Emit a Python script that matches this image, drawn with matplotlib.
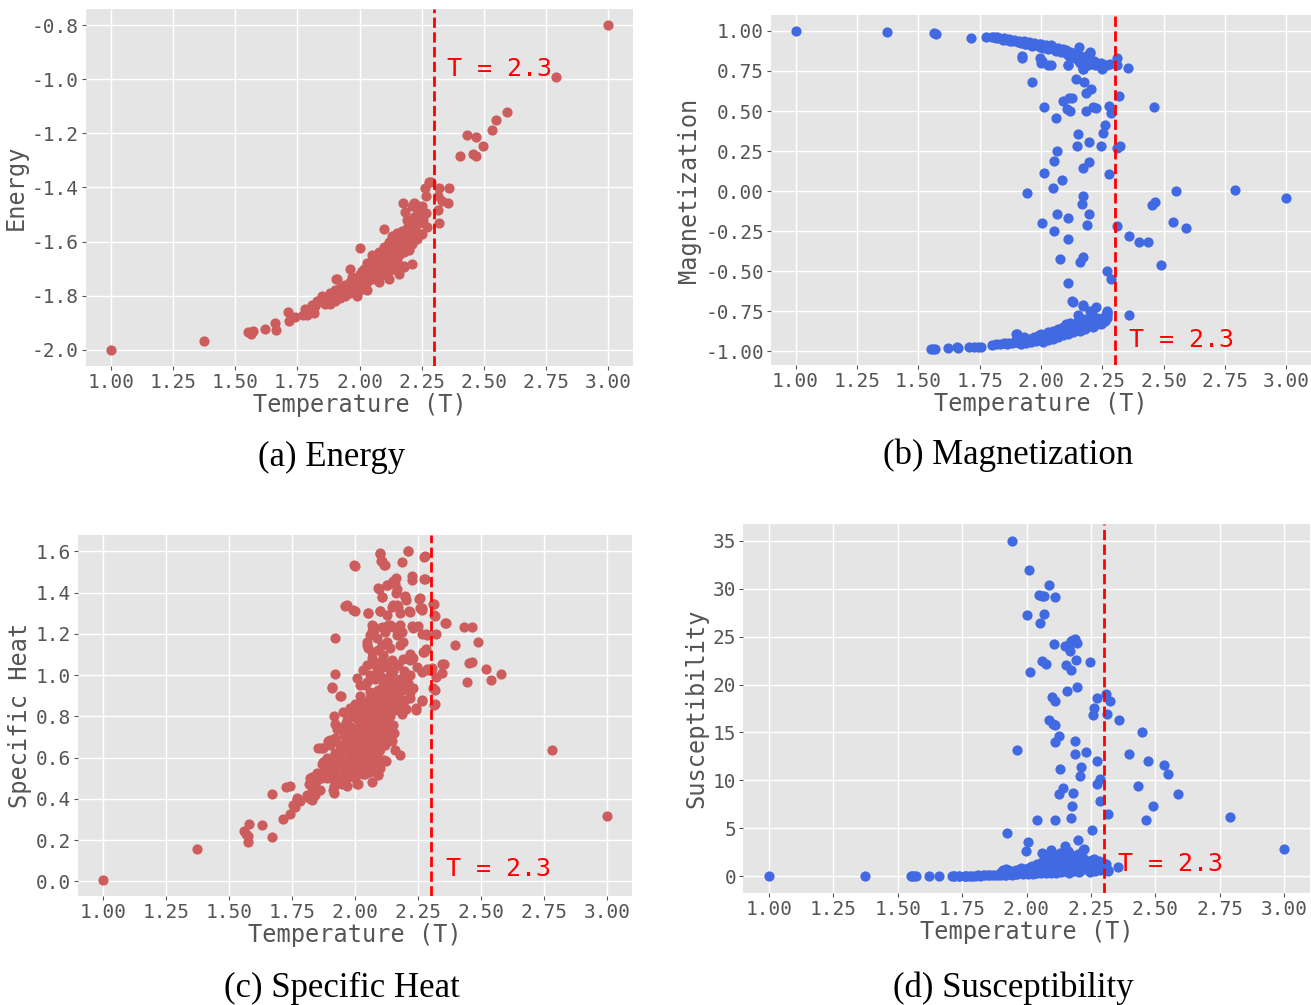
import matplotlib
matplotlib.use("Agg")
import matplotlib.pyplot as plt

# ---------------- data ----------------
T_c = 2.3
x_ticks = [1.00, 1.25, 1.50, 1.75, 2.00, 2.25, 2.50, 2.75, 3.00]

energy_T = [
    1.00, 1.373, 1.551, 1.563, 1.573, 1.62, 1.661, 1.663, 1.714, 1.717,
    1.771, 1.81, 1.816, 1.85, 1.907, 1.962, 2.003, 2.10, 2.173, 2.22,
    2.263, 2.268, 2.28, 2.288, 2.314, 2.32, 2.314, 2.32, 2.33, 2.358,
    2.355, 2.268, 2.246, 2.237, 2.403, 2.434, 2.455, 2.468, 2.47, 2.495,
    2.534, 2.551, 2.593, 2.792, 3.00, 1.74, 1.78, 1.79, 1.82, 1.83,
    1.84, 1.85, 1.86, 1.87, 1.88, 1.88, 1.89, 1.90, 1.90, 1.91,
    1.92, 1.92, 1.93, 1.94, 1.94, 1.95, 1.96, 1.96, 1.97, 1.98,
    1.98, 1.99, 2.00, 2.00, 2.00, 2.01, 2.01, 2.02, 2.02, 2.03,
    2.03, 2.04, 2.04, 2.05, 2.05, 2.06, 2.06, 2.07, 2.07, 2.08,
    2.08, 2.08, 2.09, 2.09, 2.10, 2.10, 2.10, 2.11, 2.11, 2.12,
    2.12, 2.12, 2.13, 2.13, 2.14, 2.14, 2.14, 2.15, 2.15, 2.15,
    2.16, 2.16, 2.17, 2.17, 2.18, 2.18, 2.18, 2.19, 2.19, 2.20,
    2.20, 2.20, 2.21, 2.21, 2.22, 2.22, 2.23, 2.24, 2.24, 2.25,
    2.25, 1.99, 2.03, 2.08, 2.12, 2.16, 2.21, 2.223, 2.183, 2.23,
    2.257, 2.27, 2.25, 2.177, 2.21, 1.908, 1.97, 2.05, 2.13, 2.19,
    1.875, 1.895, 1.905, 1.915, 1.925, 1.935, 1.945, 1.955, 1.965, 1.975,
    1.985, 1.995, 2.005, 2.015, 2.025, 2.035, 2.045, 2.055, 2.065, 2.075,
    2.085, 2.095, 2.105, 2.115, 2.125, 2.135, 2.145, 2.155, 2.165, 2.175,
    2.185, 2.195, 2.205, 2.215, 2.225, 2.235, 2.09, 2.11, 2.13, 2.15,
]
energy_E = [
    -2.00, -1.969, -1.934, -1.94, -1.932, -1.925, -1.901, -1.928, -1.86, -1.895,
    -1.873, -1.836, -1.864, -1.81, -1.737, -1.70, -1.625, -1.555, -1.458, -1.458,
    -1.403, -1.433, -1.381, -1.378, -1.433, -1.403, -1.485, -1.53, -1.45, -1.403,
    -1.458, -1.495, -1.52, -1.57, -1.283, -1.205, -1.275, -1.285, -1.214, -1.245,
    -1.186, -1.149, -1.122, -0.99, -0.80, -1.88, -1.85, -1.87, -1.84, -1.82,
    -1.82, -1.80, -1.83, -1.81, -1.79, -1.83, -1.80, -1.78, -1.82, -1.80,
    -1.77, -1.81, -1.79, -1.76, -1.80, -1.78, -1.75, -1.79, -1.77, -1.74,
    -1.78, -1.76, -1.72, -1.75, -1.78, -1.71, -1.76, -1.73, -1.70, -1.75,
    -1.68, -1.72, -1.69, -1.74, -1.67, -1.70, -1.73, -1.66, -1.71, -1.68,
    -1.64, -1.73, -1.66, -1.70, -1.62, -1.67, -1.72, -1.64, -1.69, -1.60,
    -1.66, -1.71, -1.62, -1.67, -1.59, -1.64, -1.69, -1.57, -1.62, -1.67,
    -1.60, -1.65, -1.56, -1.62, -1.58, -1.64, -1.69, -1.55, -1.60, -1.53,
    -1.58, -1.63, -1.56, -1.61, -1.51, -1.55, -1.59, -1.49, -1.53, -1.47,
    -1.51, -1.80, -1.78, -1.75, -1.74, -1.72, -1.467, -1.46, -1.491, -1.497,
    -1.522, -1.547, -1.571, -1.695, -1.683, -1.738, -1.73, -1.65, -1.58, -1.52,
    -1.815, -1.805, -1.795, -1.785, -1.79, -1.775, -1.785, -1.765, -1.77, -1.755,
    -1.765, -1.745, -1.735, -1.745, -1.725, -1.715, -1.705, -1.715, -1.69, -1.70,
    -1.675, -1.685, -1.655, -1.665, -1.645, -1.655, -1.625, -1.635, -1.61, -1.615,
    -1.595, -1.58, -1.57, -1.545, -1.535, -1.52, -1.72, -1.71, -1.70, -1.695,
]

mag_T = [
    1.00, 1.371, 1.564, 1.571, 1.716, 1.774, 1.923, 1.996, 2.00, 2.03,
    2.11, 2.173, 2.25, 2.31, 2.31, 2.353, 1.962, 2.141, 2.177, 2.204,
    2.182, 2.317, 2.089, 2.113, 2.125, 2.014, 2.105, 2.117, 2.06, 2.185,
    2.212, 2.224, 2.275, 2.287, 2.461, 2.259, 2.254, 2.151, 2.148, 2.197,
    2.245, 2.309, 2.322, 2.067, 2.052, 2.17, 2.195, 2.012, 2.275, 2.085,
    2.048, 1.942, 2.173, 2.55, 2.79, 3.00, 2.167, 2.451, 2.465, 2.067,
    2.195, 2.003, 2.11, 2.187, 2.309, 2.536, 2.589, 2.052, 2.108, 2.357,
    2.40, 2.435, 2.077, 2.16, 2.171, 2.49, 2.267, 2.285, 2.108, 2.128,
    2.131, 2.173, 2.224, 2.199, 2.151, 2.357, 2.267, 2.267, 1.921, 2.005,
    2.04, 2.109, 2.17, 2.155, 2.20, 2.17, 2.207, 2.268, 1.551, 1.56,
    1.57, 1.62, 1.658, 1.663, 1.705, 1.729, 1.742, 1.756, 1.80, 1.817,
    1.834, 1.85, 1.866, 1.903,
    # upper branch
    1.80, 1.81, 1.82, 1.83, 1.84, 1.85, 1.86, 1.87, 1.88, 1.89,
    1.90, 1.91, 1.92, 1.93, 1.94, 1.95, 1.96, 1.97, 1.98, 1.99,
    2.00, 2.00, 2.01, 2.02, 2.03, 2.04, 2.05, 2.05, 2.06, 2.07,
    2.08, 2.09, 2.10, 2.10, 2.11, 2.12, 2.13, 2.13, 2.14, 2.15,
    2.15, 2.16, 2.17, 2.17, 2.18, 2.18, 2.19, 2.19, 2.20, 2.20,
    2.21, 2.22, 2.23, 2.24, 2.25, 2.26, 2.27, 2.28,
    1.815, 1.845, 1.875, 1.905, 1.935, 1.965, 1.995, 2.025, 2.055, 2.085,
    2.115, 2.145, 2.165, 2.185, 2.195, 2.215, 2.235, 2.245, 2.12, 2.16,
    # lower branch
    1.86, 1.88, 1.90, 1.90, 1.91, 1.92, 1.92, 1.93, 1.94, 1.95,
    1.96, 1.97, 1.98, 1.99, 2.00, 2.00, 2.01, 2.02, 2.03, 2.03,
    2.04, 2.05, 2.05, 2.06, 2.07, 2.07, 2.08, 2.09, 2.09, 2.10,
    2.10, 2.11, 2.12, 2.12, 2.13, 2.14, 2.14, 2.15, 2.16, 2.16,
    2.17, 2.18, 2.18, 2.19, 2.20, 2.20, 2.21, 2.22, 2.23, 2.23,
    2.24, 2.25, 2.26, 2.26, 2.27, 2.27,
    1.895, 1.925, 1.945, 1.965, 1.985, 2.015, 2.045, 2.065, 2.085, 2.105,
    2.125, 2.145, 2.165, 2.185, 2.205, 2.215, 2.235, 2.245, 2.255, 2.11,
]
mag_M = [
    1.00, 0.992, 0.985, 0.983, 0.958, 0.963, 0.83, 0.83, 0.80, 0.79,
    0.79, 0.76, 0.765, 0.83, 0.79, 0.77, 0.682, 0.70, 0.68, 0.64,
    0.61, 0.595, 0.56, 0.58, 0.58, 0.524, 0.51, 0.50, 0.457, 0.50,
    0.524, 0.518, 0.532, 0.49, 0.528, 0.41, 0.366, 0.358, 0.283, 0.31,
    0.285, 0.272, 0.28, 0.25, 0.187, 0.144, 0.185, 0.113, 0.106, 0.07,
    0.018, -0.013, -0.03, 0.002, 0.01, -0.042, -0.077, -0.087, -0.069, -0.143,
    -0.14, -0.20, -0.17, -0.21, -0.22, -0.19, -0.23, -0.25, -0.30, -0.28,
    -0.315, -0.315, -0.425, -0.44, -0.41, -0.46, -0.497, -0.545, -0.57, -0.683,
    -0.69, -0.716, -0.72, -0.75, -0.775, -0.775, -0.75, -0.77, 0.844, 0.81,
    0.79, 0.79, 0.76, 0.90, 0.87, -0.713, -0.749, -0.755, -0.985, -0.985,
    -0.983, -0.98, -0.975, -0.98, -0.97, -0.97, -0.97, -0.972, -0.96, -0.955,
    -0.952, -0.948, -0.95, -0.89,
    # upper branch
    0.965, 0.96, 0.96, 0.955, 0.95, 0.955, 0.945, 0.95, 0.94, 0.945,
    0.935, 0.94, 0.925, 0.935, 0.92, 0.93, 0.915, 0.925, 0.91, 0.92,
    0.905, 0.92, 0.895, 0.915, 0.89, 0.91, 0.885, 0.90, 0.875, 0.895,
    0.87, 0.885, 0.86, 0.88, 0.85, 0.87, 0.84, 0.86, 0.83, 0.855,
    0.82, 0.845, 0.81, 0.84, 0.80, 0.83, 0.85, 0.79, 0.82, 0.86,
    0.80, 0.785, 0.80, 0.78, 0.77, 0.785, 0.79, 0.795,
    0.955, 0.945, 0.94, 0.93, 0.92, 0.905, 0.90, 0.895, 0.89, 0.88,
    0.865, 0.845, 0.83, 0.815, 0.80, 0.815, 0.79, 0.80, 0.84, 0.80,
    # lower branch
    -0.955, -0.95, -0.89, -0.93, -0.95, -0.93, -0.955, -0.91, -0.945, -0.92,
    -0.94, -0.91, -0.935, -0.90, -0.925, -0.89, -0.94, -0.91, -0.88, -0.93,
    -0.90, -0.87, -0.92, -0.89, -0.86, -0.91, -0.88, -0.85, -0.90, -0.87,
    -0.83, -0.89, -0.85, -0.82, -0.88, -0.84, -0.86, -0.81, -0.87, -0.84,
    -0.82, -0.86, -0.80, -0.84, -0.82, -0.79, -0.85, -0.81, -0.83, -0.79,
    -0.80, -0.82, -0.78, -0.81, -0.79, -0.76,
    -0.94, -0.94, -0.93, -0.925, -0.915, -0.905, -0.895, -0.875, -0.865, -0.855,
    -0.865, -0.835, -0.825, -0.835, -0.81, -0.83, -0.805, -0.83, -0.80, -0.84,
]

heat_T = [
    1.00, 1.374, 1.56, 1.568, 1.58, 1.577, 1.574, 1.63, 1.67, 1.67,
    1.713, 1.74, 1.726, 1.74, 1.762, 1.768, 1.781, 1.818, 1.83, 1.843,
    1.83, 1.83, 1.83, 1.86, 1.877, 1.885, 1.864, 1.872, 1.894, 1.915,
    1.915, 1.922, 1.922, 1.922, 1.918, 1.91, 1.922, 1.922, 1.94, 1.96,
    1.993, 1.998, 2.00, 2.008, 2.068, 2.093, 2.052, 2.072, 2.068, 2.047,
    2.10, 2.105, 2.115, 2.127, 2.093, 2.107, 2.098, 2.152, 2.16, 2.164,
    2.185, 2.21, 2.152, 2.169, 2.198, 2.203, 2.225, 2.216, 2.256, 2.265,
    2.267, 2.276, 2.276, 2.312, 2.317, 2.267, 2.283, 2.32, 2.357, 2.23,
    2.397, 2.432, 2.464, 2.49, 2.27, 2.283, 2.286, 2.30, 2.32, 2.344,
    2.344, 2.452, 2.443, 2.521, 2.54, 2.58, 2.781, 3.00, 2.317, 2.317,
    2.267, 2.242, 2.204, 2.179, 2.157, 2.124, 2.115, 2.145, 2.09, 2.069,
    2.075, 2.106, 2.119, 2.132, 2.152, 2.179, 2.185, 2.227, 2.251, 2.046,
    2.06, 2.053, 2.066, 2.086, 2.106, 2.126, 2.139, 2.165, 2.179, 2.192,
    2.275, 2.066, 2.079, 2.099, 2.112, 2.126, 2.146, 2.165, 2.218, 2.231,
    2.245, 2.265, 2.291, 2.304, 2.355, 2.463, 1.907, 1.943, 2.033, 2.007,
    2.02, 2.046, 2.06, 2.086, 2.112, 2.139, 2.165, 2.192, 2.218, 2.126,
    2.152, 2.179, 2.205, 2.231, 2.311, 2.313, 2.265, 2.242, 1.954, 1.98,
    2.007, 2.033, 2.06, 2.086, 2.112, 2.139, 2.165, 2.192, 2.218, 2.212,
    2.099, 2.106, 2.119, 2.274, 2.161, 2.225, 2.274, 2.095, 2.128, 2.165,
    2.106, 2.20, 2.258, 1.967, 2.00, 2.053, 2.099, 2.126, 2.146, 2.165,
    2.179, 2.218, 2.258, 2.311, 2.315, 2.36, 2.284, 2.139, 2.046, 2.09,
    # dense core
    1.95, 1.96, 1.97, 1.97, 1.98, 1.98, 1.99, 1.99, 2.00, 2.00,
    2.00, 2.01, 2.01, 2.01, 2.02, 2.02, 2.02, 2.03, 2.03, 2.03,
    2.04, 2.04, 2.04, 2.05, 2.05, 2.05, 2.05, 2.06, 2.06, 2.06,
    2.07, 2.07, 2.07, 2.07, 2.08, 2.08, 2.08, 2.09, 2.09, 2.09,
    2.10, 2.10, 2.10, 2.10, 2.11, 2.11, 2.11, 2.12, 2.12, 2.12,
    2.13, 2.13, 2.13, 2.14, 2.14, 2.15, 2.15, 2.15, 2.16, 2.16,
    2.17, 2.17, 2.18, 2.18, 2.19, 2.19, 2.20, 2.20, 2.21, 2.22,
    2.22,
    1.94, 1.95, 1.955, 1.96, 1.965, 1.97, 1.975, 1.985, 1.985, 1.99,
    1.995, 2.005, 2.005, 2.015, 2.015, 2.025, 2.025, 2.025, 2.035, 2.035,
    2.035, 2.045, 2.045, 2.045, 2.055, 2.055, 2.055, 2.065, 2.065, 2.065,
    2.065, 2.075, 2.075, 2.075, 2.085, 2.085, 2.085, 2.085, 2.095, 2.095,
    2.095, 2.105, 2.105, 2.105, 2.105, 2.115, 2.115, 2.125, 2.125, 2.125,
    2.135, 2.135, 2.145, 2.145, 2.155, 2.155, 2.165, 2.175, 2.185, 2.195,
    2.04, 2.06, 2.08, 2.00, 2.02, 2.04, 2.06, 2.08, 2.10, 2.12,
    # lower-left of the core
    1.88, 1.89, 1.90, 1.91, 1.92, 1.92, 1.93, 1.94, 1.94, 1.95,
    1.96, 1.97, 1.98, 1.99, 2.00, 2.01, 2.03, 1.93, 1.92, 1.90,
    1.89, 1.87, 1.86, 1.85, 1.84, 1.95, 1.97,
    1.854, 1.901, 1.921, 1.914, 1.94, 1.873, 1.893, 1.848, 1.868, 1.821,
    1.819, 1.861, 1.834, 1.821, 1.808, 1.914, 1.921, 1.954, 1.967, 2.00,
    2.013, 1.768, 1.755, 1.775,
]
heat_C = [
    0.008, 0.154, 0.244, 0.228, 0.276, 0.219, 0.19, 0.273, 0.216, 0.422,
    0.30, 0.328, 0.458, 0.46, 0.362, 0.406, 0.39, 0.406, 0.393, 0.42,
    0.439, 0.471, 0.504, 0.52, 0.512, 0.572, 0.645, 0.645, 0.679, 0.43,
    0.463, 0.504, 0.544, 0.763, 0.80, 0.937, 1.004, 1.178, 0.90, 1.337,
    1.316, 1.535, 1.53, 0.471, 0.48, 0.52, 1.30, 1.239, 1.215, 1.144,
    1.587, 1.552, 1.535, 1.438, 1.421, 1.38, 1.313, 1.457, 1.44, 1.40,
    1.548, 1.60, 1.34, 1.331, 1.383, 1.364, 1.46, 1.313, 1.367, 1.318,
    1.327, 1.58, 1.466, 1.344, 1.287, 1.197, 1.197, 1.197, 1.251, 1.23,
    1.148, 1.231, 1.231, 1.159, 1.113, 1.129, 1.031, 1.023, 0.99, 1.053,
    1.012, 1.061, 0.965, 1.031, 0.975, 1.004, 0.637, 0.317, 0.929, 0.858,
    0.872, 0.833, 0.837, 0.614, 0.637, 0.585, 0.59, 0.682, 0.515, 1.243,
    1.218, 1.234, 1.21, 1.243, 1.234, 1.243, 1.21, 1.239, 1.238, 1.162,
    1.194, 1.13, 1.113, 1.178, 1.146, 1.162, 1.13, 1.194, 1.146, 1.162,
    1.113, 1.081, 1.049, 1.065, 1.097, 1.04, 1.073, 1.049, 1.073, 1.081,
    1.04, 1.016, 1.024, 1.032, 1.053, 1.063, 0.94, 0.90, 1.024, 0.984,
    0.951, 0.967, 1.00, 1.016, 0.984, 1.00, 0.967, 0.984, 1.00, 0.935,
    0.919, 0.935, 0.943, 0.935, 0.935, 0.854, 0.879, 0.838, 0.822, 0.838,
    0.854, 0.87, 0.887, 0.895, 0.879, 0.854, 0.838, 0.87, 0.887, 1.60,
    1.591, 1.553, 1.534, 1.574, 1.47, 1.482, 1.466, 1.42, 1.437, 1.416,
    1.38, 1.38, 1.372, 1.34, 1.31, 1.302, 1.31, 1.291, 1.332, 1.34,
    1.30, 1.307, 1.324, 1.343, 1.291, 1.251, 1.194, 1.243, 1.05, 1.12,
    # dense core
    0.75, 0.70, 0.78, 0.66, 0.72, 0.62, 0.80, 0.68, 0.74, 0.64,
    0.58, 0.82, 0.70, 0.60, 0.77, 0.66, 0.55, 0.84, 0.73, 0.62,
    0.79, 0.68, 0.58, 0.86, 0.75, 0.64, 0.56, 0.81, 0.70, 0.60,
    0.90, 0.77, 0.66, 0.57, 0.84, 0.72, 0.62, 0.93, 0.79, 0.68,
    0.88, 0.75, 0.64, 0.55, 0.95, 0.82, 0.70, 0.90, 0.78, 0.66,
    0.98, 0.85, 0.73, 0.92, 0.80, 1.02, 0.88, 0.76, 0.95, 0.83,
    1.05, 0.90, 0.98, 0.86, 1.08, 0.93, 1.00, 0.88, 0.96, 1.10,
    0.92,
    0.57, 0.64, 0.71, 0.59, 0.77, 0.53, 0.69, 0.75, 0.58, 0.63,
    0.71, 0.67, 0.79, 0.56, 0.74, 0.61, 0.81, 0.69, 0.57, 0.77,
    0.66, 0.63, 0.74, 0.83, 0.59, 0.69, 0.79, 0.55, 0.65, 0.75,
    0.86, 0.61, 0.71, 0.81, 0.58, 0.67, 0.77, 0.89, 0.63, 0.73,
    0.84, 0.59, 0.69, 0.79, 0.93, 0.74, 0.86, 0.70, 0.81, 0.97,
    0.77, 0.89, 0.85, 1.01, 0.72, 0.93, 0.88, 0.95, 0.81, 1.02,
    0.52, 0.53, 0.55, 0.86, 0.90, 0.95, 0.92, 0.98, 1.03, 1.06,
    # lower-left of the core
    0.55, 0.50, 0.58, 0.53, 0.62, 0.48, 0.56, 0.66, 0.51, 0.60,
    0.54, 0.50, 0.56, 0.52, 0.50, 0.54, 0.52, 0.74, 0.68, 0.66,
    0.60, 0.57, 0.52, 0.49, 0.47, 0.47, 0.46,
    0.644, 0.684, 0.693, 0.587, 0.603, 0.579, 0.547, 0.523, 0.499, 0.499,
    0.474, 0.445, 0.426, 0.41, 0.417, 0.442, 0.466, 0.499, 0.515, 0.531,
    0.474, 0.393, 0.369, 0.401,
]

chi_T = [
    1.00, 1.372, 1.55, 1.555, 1.562, 1.57, 1.62, 1.66, 1.71, 1.72,
    1.942, 2.011, 2.087, 2.048, 2.06, 2.068, 2.111, 2.003, 2.068, 2.052,
    2.108, 2.148, 2.164, 2.172, 2.18, 2.188, 2.196, 2.169, 2.06, 2.076,
    2.193, 2.245, 2.152, 2.172, 2.014, 2.196, 2.159, 2.10, 2.111, 2.274,
    2.309, 2.325, 2.261, 2.258, 2.312, 2.359, 2.087, 2.11, 2.104, 2.127,
    2.111, 2.45, 2.19, 1.963, 2.188, 2.232, 2.274, 2.399, 2.47, 2.535,
    2.55, 2.13, 2.211, 2.206, 2.285, 2.274, 2.433, 2.14, 2.127, 2.18,
    2.589, 2.175, 2.285, 2.491, 2.172, 2.317, 2.79, 2.04, 2.111, 2.462,
    2.253, 1.923, 2.005, 2.148, 2.20, 1.997, 2.06, 2.097, 2.10, 2.22,
    3.00, 2.354, 2.317, 2.165, 2.223, 2.318, 1.74, 1.77, 1.76, 1.79,
    # low branch
    1.72, 1.74, 1.76, 1.78, 1.80, 1.81, 1.82, 1.83, 1.84, 1.85,
    1.86, 1.87, 1.88, 1.89, 1.90, 1.90, 1.91, 1.91, 1.92, 1.92,
    1.93, 1.93, 1.94, 1.94, 1.95, 1.96, 1.96, 1.97, 1.98, 1.98,
    1.99, 2.00, 2.00, 2.01, 2.02, 2.02, 2.03, 2.04, 2.04, 2.05,
    2.05, 2.06, 2.06, 2.07, 2.07, 2.08, 2.08, 2.09, 2.09, 2.10,
    2.10, 2.11, 2.11, 2.12, 2.12, 2.13, 2.13, 2.14, 2.14, 2.15,
    2.15, 2.16, 2.16, 2.17, 2.17, 2.18, 2.18, 2.19, 2.19, 2.20,
    2.20, 2.21, 2.21, 2.22, 2.22, 2.23, 2.24, 2.24, 2.25, 2.26,
    2.26, 2.27, 2.28, 2.28, 2.29, 2.30, 2.31,
    1.905, 1.915, 1.925, 1.945, 1.955, 1.965, 1.975, 1.985, 1.995, 2.005,
    2.015, 2.025, 2.035, 2.045, 2.055, 2.065, 2.075, 2.085, 2.095, 2.105,
    2.115, 2.125, 2.135, 2.145, 2.155, 2.165, 2.175, 2.185, 2.195, 2.205,
    2.215, 2.235, 2.245, 2.255, 2.265, 2.275, 2.285, 2.295,
]
chi_X = [
    0.0, 0.0, 0.0, 0.0, 0.0, 0.0, 0.0, 0.0, 0.0, 0.01,
    35.0, 32.0, 30.4, 29.3, 29.2, 29.2, 29.1, 27.3, 27.4, 26.4,
    24.2, 24.0, 24.1, 24.5, 24.6, 24.7, 24.3, 23.5, 22.5, 22.1,
    22.6, 22.4, 22.0, 21.5, 21.3, 19.7, 19.3, 18.7, 18.3, 18.6,
    19.0, 18.3, 17.6, 16.8, 16.9, 16.3, 16.3, 15.8, 15.9, 14.6,
    14.0, 15.0, 14.1, 13.2, 12.8, 13.0, 12.0, 12.8, 12.0, 11.6,
    10.7, 11.2, 11.4, 10.5, 10.1, 9.6, 9.4, 9.2, 8.6, 8.7,
    8.6, 7.3, 7.8, 7.3, 6.1, 6.5, 6.2, 5.9, 5.9, 5.9,
    4.8, 4.5, 3.6, 3.2, 3.8, 2.6, 2.4, 2.7, 2.3, 2.75,
    2.86, 0.94, 0.5, 2.4, 2.8, 0.63, 0.0, 0.0, 0.01, 0.02,
    # low branch
    0.0, 0.02, 0.03, 0.05, 0.05, 0.08, 0.06, 0.1, 0.08, 0.12,
    0.1, 0.15, 0.12, 0.18, 0.15, 0.4, 0.22, 0.6, 0.18, 0.8,
    0.3, 0.6, 0.2, 0.5, 0.35, 0.25, 0.7, 0.4, 0.3, 0.9,
    0.5, 0.35, 0.8, 0.6, 0.4, 1.1, 0.7, 0.3, 1.3, 0.6,
    0.9, 0.4, 1.5, 0.8, 2.2, 0.5, 1.2, 0.9, 1.8, 0.4,
    1.4, 0.7, 2.0, 1.1, 0.5, 1.6, 2.4, 0.8, 1.3, 0.5,
    1.9, 1.0, 2.6, 0.6, 1.5, 1.2, 2.1, 0.7, 1.7, 1.0,
    2.3, 0.6, 1.4, 1.9, 0.9, 1.2, 0.7, 1.6, 1.1, 1.8,
    0.8, 1.3, 1.0, 1.6, 1.2, 0.9, 1.3,
    0.3, 0.1, 0.45, 0.15, 0.55, 0.2, 0.65, 0.2, 0.75, 0.2,
    1.0, 0.25, 0.5, 0.9, 0.3, 1.1, 0.35, 1.6, 0.3, 1.0,
    0.3, 1.3, 0.4, 1.8, 0.9, 0.3, 2.0, 0.5, 1.3, 0.4,
    1.1, 1.4, 0.4, 1.7, 0.5, 1.5, 0.6, 1.4,
]

captions = ["(a) Energy", "(b) Magnetization", "(c) Specific Heat", "(d) Susceptibility"]
y_labels = ["Energy", "Magnetization", "Specific Heat", "Susceptibility"]
energy_ticks = [-2.0, -1.8, -1.6, -1.4, -1.2, -1.0, -0.8]
mag_ticks = [-1.0, -0.75, -0.5, -0.25, 0.0, 0.25, 0.5, 0.75, 1.0]
heat_ticks = [0.0, 0.2, 0.4, 0.6, 0.8, 1.0, 1.2, 1.4, 1.6]
chi_ticks = [0, 5, 10, 15, 20, 25, 30, 35]

# ---------------- styling ----------------
plt.style.use("ggplot")
plt.rcParams["font.family"] = ["DejaVu Sans Mono", "DejaVu Sans"]
plt.rcParams["axes.unicode_minus"] = True

RED = "#CD5C5C"
BLUE = "#4169E1"
W, H = 1311, 1005

fig = plt.figure(figsize=(W / 100, H / 100), dpi=100)


def px_axes(left, top, right, bottom):
    return fig.add_axes([left / W, 1 - bottom / H, (right - left) / W, (bottom - top) / H])


panels = [
    dict(box=(86, 9, 633, 366), x=energy_T, y=energy_E, c=RED, yt=energy_ticks, fmt="{:.1f}",
         lab=y_labels[0], txt=(2.35, -0.96), cap=captions[0], cap_xy=(332, 457)),
    dict(box=(771, 15, 1311, 365), x=mag_T, y=mag_M, c=BLUE, yt=mag_ticks, fmt="{:.2f}",
         lab=y_labels[1], txt=(2.36, -0.93), cap=captions[1], cap_xy=(1008, 455)),
    dict(box=(78, 535, 632, 896), x=heat_T, y=heat_C, c=RED, yt=heat_ticks, fmt="{:.1f}",
         lab=y_labels[2], txt=(2.36, 0.058), cap=captions[2], cap_xy=(342, 988)),
    dict(box=(743, 524, 1310, 893), x=chi_T, y=chi_X, c=BLUE, yt=chi_ticks, fmt="{:d}",
         lab=y_labels[3], txt=(2.355, 1.25), cap=captions[3], cap_xy=(1013, 988)),
]

for p in panels:
    assert len(p["x"]) == len(p["y"])
    ax = px_axes(*p["box"])
    ax.set_facecolor("#E5E5E5")
    ax.grid(True, color="white", linewidth=1.0)
    ax.set_axisbelow(True)
    for s in ax.spines.values():
        s.set_visible(False)
    ax.scatter(p["x"], p["y"], s=54, color=p["c"], linewidths=0, zorder=3)
    ax.axvline(T_c, color="red", linestyle="--", linewidth=2, zorder=4)
    ax.text(p["txt"][0], p["txt"][1], "T = 2.3", color="red", fontsize=18,
            ha="left", va="center", zorder=5)
    ax.set_xticks(x_ticks)
    ax.set_xticklabels(["{:.2f}".format(v) for v in x_ticks])
    ax.set_yticks(p["yt"])
    ax.set_yticklabels([p["fmt"].format(v) for v in p["yt"]])
    ax.tick_params(labelsize=14, colors="#555555", length=3, pad=2)
    ax.set_xlabel("Temperature (T)", fontsize=17, color="#555555", labelpad=1)
    ax.set_ylabel(p["lab"], fontsize=17, color="#555555", labelpad=3)
    fig.text(p["cap_xy"][0] / W, 1 - p["cap_xy"][1] / H, p["cap"], fontsize=25,
             family="Liberation Serif", color="black", ha="center", va="center")

fig.savefig("out.png", dpi=100)
